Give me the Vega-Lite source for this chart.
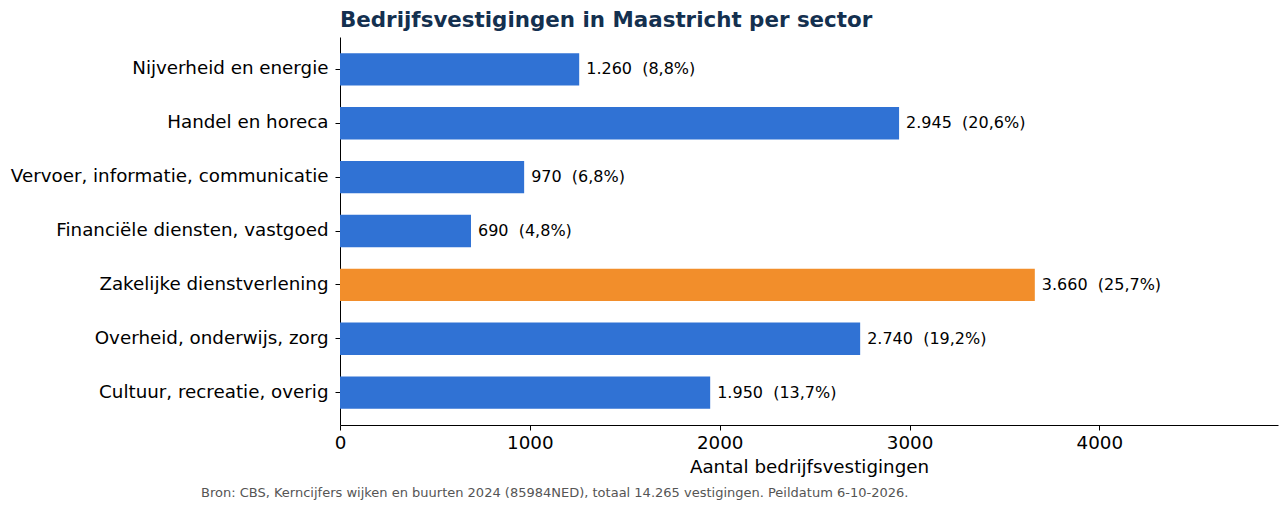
{
  "$schema": "https://vega.github.io/schema/vega-lite/v6.json",
  "background": "white",
  "padding": {"left": 10, "top": 9, "right": 10, "bottom": 5},
  "config": {
    "font": "DejaVu Sans",
    "view": {"stroke": null},
    "axis": {"grid": false, "domainColor": "black", "tickColor": "black", "labelColor": "black", "titleColor": "black", "labelFont": "DejaVu Sans", "titleFont": "DejaVu Sans"}
  },
  "title": {
    "text": "Bron: CBS, Kerncijfers wijken en buurten 2024 (85984NED), totaal 14.265 vestigingen. Peildatum 6-10-2026.",
    "orient": "bottom",
    "anchor": "start",
    "frame": "group",
    "fontSize": 13,
    "fontWeight": "normal",
    "color": "#555555",
    "font": "DejaVu Sans",
    "dx": -139,
    "offset": 11
  },
  "vconcat": [
    {
      "title": {
        "text": "Bedrijfsvestigingen in Maastricht per sector",
        "anchor": "start",
        "frame": "group",
        "fontSize": 21.4,
        "fontWeight": "bold",
        "color": "#14304f",
        "font": "DejaVu Sans",
        "offset": 6
      },
      "width": 938,
      "height": 388,
      "data": {
        "values": [
          {"sector": "Nijverheid en energie", "aantal": 1260, "label": "1.260\u00a0 (8,8%)"},
          {"sector": "Handel en horeca", "aantal": 2945, "label": "2.945\u00a0 (20,6%)"},
          {"sector": "Vervoer, informatie, communicatie", "aantal": 970, "label": "970\u00a0 (6,8%)"},
          {"sector": "Financiële diensten, vastgoed", "aantal": 690, "label": "690\u00a0 (4,8%)"},
          {"sector": "Zakelijke dienstverlening", "aantal": 3660, "label": "3.660\u00a0 (25,7%)"},
          {"sector": "Overheid, onderwijs, zorg", "aantal": 2740, "label": "2.740\u00a0 (19,2%)"},
          {"sector": "Cultuur, recreatie, overig", "aantal": 1950, "label": "1.950\u00a0 (13,7%)"}
        ]
      },
      "encoding": {
        "y": {
          "field": "sector",
          "type": "nominal",
          "sort": null,
          "scale": {"paddingInner": 0.4, "paddingOuter": 0.3},
          "axis": {"title": null, "labelFontSize": 18.3, "tickSize": 5, "labelPadding": 7, "domainWidth": 1, "labelLimit": 500}
        },
        "x": {
          "field": "aantal",
          "type": "quantitative",
          "scale": {"domain": [0, 4941], "nice": false},
          "axis": {"title": "Aantal bedrijfsvestigingen", "values": [0, 1000, 2000, 3000, 4000], "format": "d", "labelFontSize": 18.3, "titleFontSize": 18.3, "titleFontWeight": "normal", "tickSize": 5, "labelPadding": 4, "titlePadding": 7, "labelFlush": false}
        }
      },
      "layer": [
        {
          "mark": {"type": "bar"},
          "encoding": {
            "color": {
              "condition": {"test": "datum.sector === 'Zakelijke dienstverlening'", "value": "#f28e2b"},
              "value": "#3072d4"
            }
          }
        },
        {
          "mark": {"type": "text", "align": "left", "baseline": "middle", "dx": 7, "fontSize": 16, "color": "black"},
          "encoding": {"text": {"field": "label"}}
        }
      ]
    }
  ]
}
